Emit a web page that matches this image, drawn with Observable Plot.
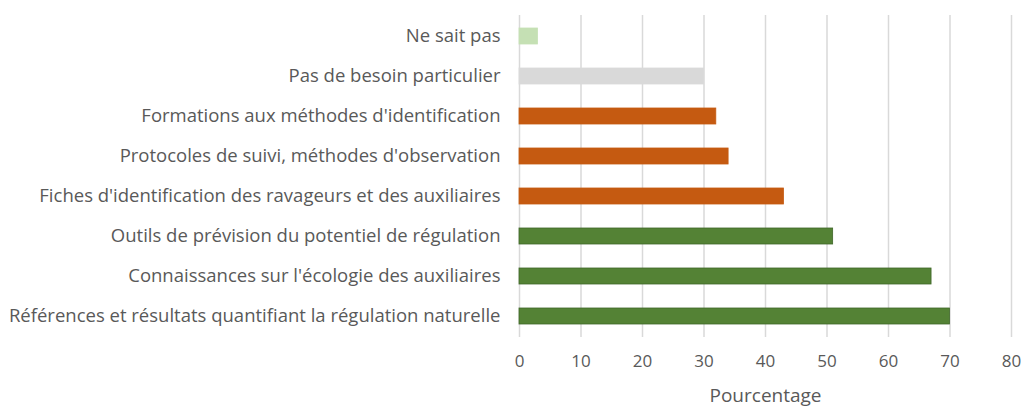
<!DOCTYPE html>
<html>
<head>
<meta charset="utf-8">
<script src="https://cdn.jsdelivr.net/npm/d3@7"></script>
<script src="https://cdn.jsdelivr.net/npm/@observablehq/plot@0.6"></script>
<style>
  html, body { margin: 0; padding: 0; background: #fff; }
</style>
</head>
<body>
<div id="chart"></div>
<script>
const categories = [
  "Ne sait pas",
  "Pas de besoin particulier",
  "Formations aux méthodes d'identification",
  "Protocoles de suivi, méthodes d'observation",
  "Fiches d'identification des ravageurs et des auxiliaires",
  "Outils de prévision du potentiel de régulation",
  "Connaissances sur l'écologie des auxiliaires",
  "Références et résultats quantifiant la régulation naturelle"
];
const values = [3, 30, 32, 34, 43, 51, 67, 70];
const groups = ["nsp", "aucun", "pratique", "pratique", "pratique", "connaissance", "connaissance", "connaissance"];
const groupDomain = ["nsp", "aucun", "pratique", "connaissance"];
const groupColors = ["#c5e0b4", "#d9d9d9", "#c55a11", "#548235"];
const groupStrokes = ["#c5e0b4", "#d9d9d9", "#c55a11", "#3f6628"];
const xTicks = [0, 10, 20, 30, 40, 50, 60, 70, 80];
const xLabel = "Pourcentage";

const data = categories.map((c, i) => ({category: c, value: values[i], group: groups[i]}));
const strokeOf = g => groupStrokes[groupDomain.indexOf(g)];

const chart = Plot.plot({
  width: 1027,
  height: 407,
  marginLeft: 519,
  marginRight: 16,
  marginTop: 15,
  marginBottom: 70,
  style: {fontFamily: "'Open Sans', sans-serif", fontSize: "16px", color: "#595959", background: "#fff"},
  x: {domain: [0, 80]},
  y: {domain: categories, paddingInner: 0.6, paddingOuter: 0.31},
  color: {domain: groupDomain, range: groupColors},
  marks: [
    Plot.gridX(xTicks, {stroke: "#d9d9d9", strokeOpacity: 1, strokeWidth: 1.5}),
    Plot.barX(data, {x: "value", y: "category", fill: "group", stroke: d => strokeOf(d.group), strokeWidth: 0.8}),
    Plot.axisX(xTicks, {tickSize: 0, tickPadding: 17, fontSize: 17, label: null}),
    Plot.axisX({tickSize: 0, ticks: [], label: xLabel, labelAnchor: "center", labelArrow: false, labelOffset: 64, fontSize: 19}),
    Plot.axisY({tickSize: 0, tickPadding: 19, label: null, fontSize: 18.5})
  ]
});
document.getElementById("chart").appendChild(chart);
</script>
</body>
</html>
